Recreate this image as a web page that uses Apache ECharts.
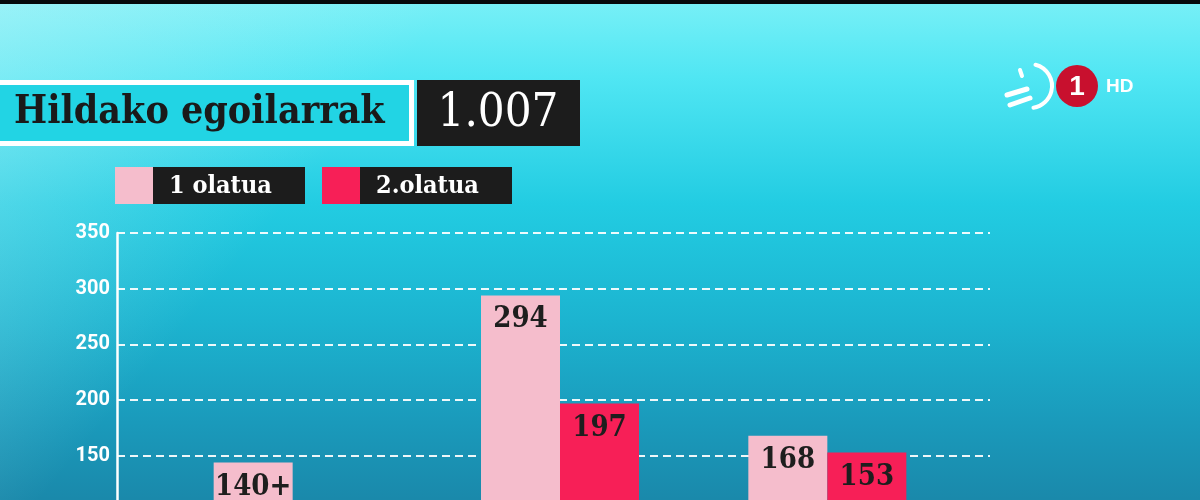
<!DOCTYPE html>
<html>
<head>
<meta charset="utf-8">
<style>
html,body{margin:0;padding:0;background:#1a84a6;overflow:hidden;width:1200px;height:500px;}
#chart{width:1200px;height:640px;}
</style>
<script src="https://cdn.jsdelivr.net/npm/echarts@6/dist/echarts.min.js"></script>
</head>
<body>
<div id="chart"></div>
<script>
// ---- data ----
const titleText = 'Hildako egoilarrak';
const totalText = '1.007';
const categories = ['Araba', 'Bizkaia', 'Gipuzkoa'];
const seriesNames = ['1 olatua', '2.olatua'];
const wave1 = [144, 294, 168];
const wave1Labels = ['140+', '294', '168'];
const wave2 = [55, 197, 153];
const wave2Labels = ['', '197', '153'];
const yTicks = [0, 50, 100, 150, 200, 250, 300, 350];
const seriesColors = ['#f5bdcc', '#f71f57'];

const serif = "'DejaVu Serif Condensed','DejaVu Serif',serif";
const chart = echarts.init(document.getElementById('chart'));

const legendGraphics = [];
const legendX = [115, 322];
seriesNames.forEach((n, i) => {
  legendGraphics.push({type:'rect', left:legendX[i], top:167, shape:{width:38, height:37}, style:{fill:seriesColors[i]}});
  legendGraphics.push({type:'rect', left:legendX[i]+38, top:167, shape:{width:152, height:37}, style:{fill:'#1c1c1c'}});
  legendGraphics.push({type:'text', x:legendX[i]+54, y:186, style:{text:n, fill:'#fff', font:"bold 25px " + serif, textVerticalAlign:'middle'}});
});

const option = {
  animation: false,
  backgroundColor: {type:'linear', x:0, y:0, x2:0, y2:1, colorStops:[
    {offset:0, color:'#78f0f7'},
    {offset:0.12, color:'#50e6f3'},
    {offset:0.32, color:'#22cce2'},
    {offset:0.5, color:'#1cb4d0'},
    {offset:0.66, color:'#1a9abb'},
    {offset:0.8, color:'#1a86a8'},
    {offset:1, color:'#1a7a9e'}
  ]},
  graphic: [
    {type:'rect', left:0, top:0, z:-10, shape:{width:1200, height:640},
     style:{fill:{type:'linear', x:0, y:0, x2:0.45, y2:0.7, colorStops:[
       {offset:0, color:'rgba(200,245,248,0.42)'},
       {offset:0.5, color:'rgba(200,245,248,0)'}
     ]}}},
    {type:'rect', left:0, top:0, shape:{width:1200, height:4}, style:{fill:'#050a0c'}},
    // title
    {type:'rect', left:0, top:80, shape:{width:414, height:66}, style:{fill:'#ffffff'}},
    {type:'rect', left:0, top:85, shape:{width:409, height:56}, style:{fill:'#22d4e4'}},
    {type:'text', x:14, y:113, style:{text:titleText, fill:'#1a1a1a', font:"bold 39px " + serif, textVerticalAlign:'middle'}},
    {type:'rect', left:417, top:80, shape:{width:163, height:66}, style:{fill:'#1c1c1c'}},
    {type:'text', x:498, y:114, style:{text:totalText, fill:'#fff', font:"47px " + serif, textAlign:'center', textVerticalAlign:'middle'}},
    ...legendGraphics,
    // logo
    {type:'circle', shape:{cx:1077, cy:86, r:21}, style:{fill:'#c8102e'}},
    {type:'text', x:1077, y:87, style:{text:'1', fill:'#fff', font:"bold 28px 'Liberation Sans',sans-serif", textAlign:'center', textVerticalAlign:'middle'}},
    {type:'text', x:1106, y:87, style:{text:'HD', fill:'#fff', font:"bold 19px 'Liberation Sans',sans-serif", textVerticalAlign:'middle'}},
    {type:'arc', shape:{cx:1030, cy:86, r:22, startAngle:-Math.PI*0.42, endAngle:Math.PI*0.45}, style:{stroke:'#fff', lineWidth:4, lineCap:'round', fill:null}},
    {type:'line', shape:{x1:1020, y1:70, x2:1022, y2:76}, style:{stroke:'#fff', lineWidth:4, lineCap:'round'}},
    {type:'line', shape:{x1:1007, y1:95, x2:1027, y2:89}, style:{stroke:'#fff', lineWidth:5, lineCap:'round'}},
    {type:'line', shape:{x1:1010, y1:105, x2:1030, y2:98}, style:{stroke:'#fff', lineWidth:5, lineCap:'round'}}
  ],
  grid: [
    {left:117, top:233, width:873, height:390},
    {left:159, top:233, width:802, height:390}
  ],
  xAxis: [
    {gridIndex:0, type:'value', show:false},
    {gridIndex:1, type:'category', data:categories, show:false}
  ],
  yAxis: [
    {gridIndex:0, type:'value', min:yTicks[0], max:yTicks[yTicks.length-1], interval:yTicks[1]-yTicks[0],
     axisLine:{show:true, lineStyle:{color:'#ffffff', width:2.5}},
     axisTick:{show:false},
     axisLabel:{color:'#ffffff', fontSize:20, fontWeight:'bold', fontFamily:'Roboto', margin:7},
     splitLine:{show:true, lineStyle:{color:'rgba(255,255,255,0.92)', width:2, type:[8,5]}}},
    {gridIndex:1, type:'value', min:yTicks[0], max:yTicks[yTicks.length-1], interval:yTicks[1]-yTicks[0], show:false, splitLine:{show:false}}
  ],
  series: [
    {name:seriesNames[0], type:'bar', xAxisIndex:1, yAxisIndex:1, data:wave1, barWidth:79, barGap:'0%',
     itemStyle:{color:seriesColors[0]},
     label:{show:true, position:'insideTop', distance:10, color:'#1e1e1e', fontSize:29, fontWeight:'bold', fontFamily:serif,
            formatter:p => wave1Labels[p.dataIndex]}},
    {name:seriesNames[1], type:'bar', xAxisIndex:1, yAxisIndex:1, data:wave2, barWidth:79, barGap:'0%',
     itemStyle:{color:seriesColors[1]},
     label:{show:true, position:'insideTop', distance:10, color:'#1e1e1e', fontSize:29, fontWeight:'bold', fontFamily:serif,
            formatter:p => wave2Labels[p.dataIndex]}}
  ]
};
chart.setOption(option);
</script>
</body>
</html>
